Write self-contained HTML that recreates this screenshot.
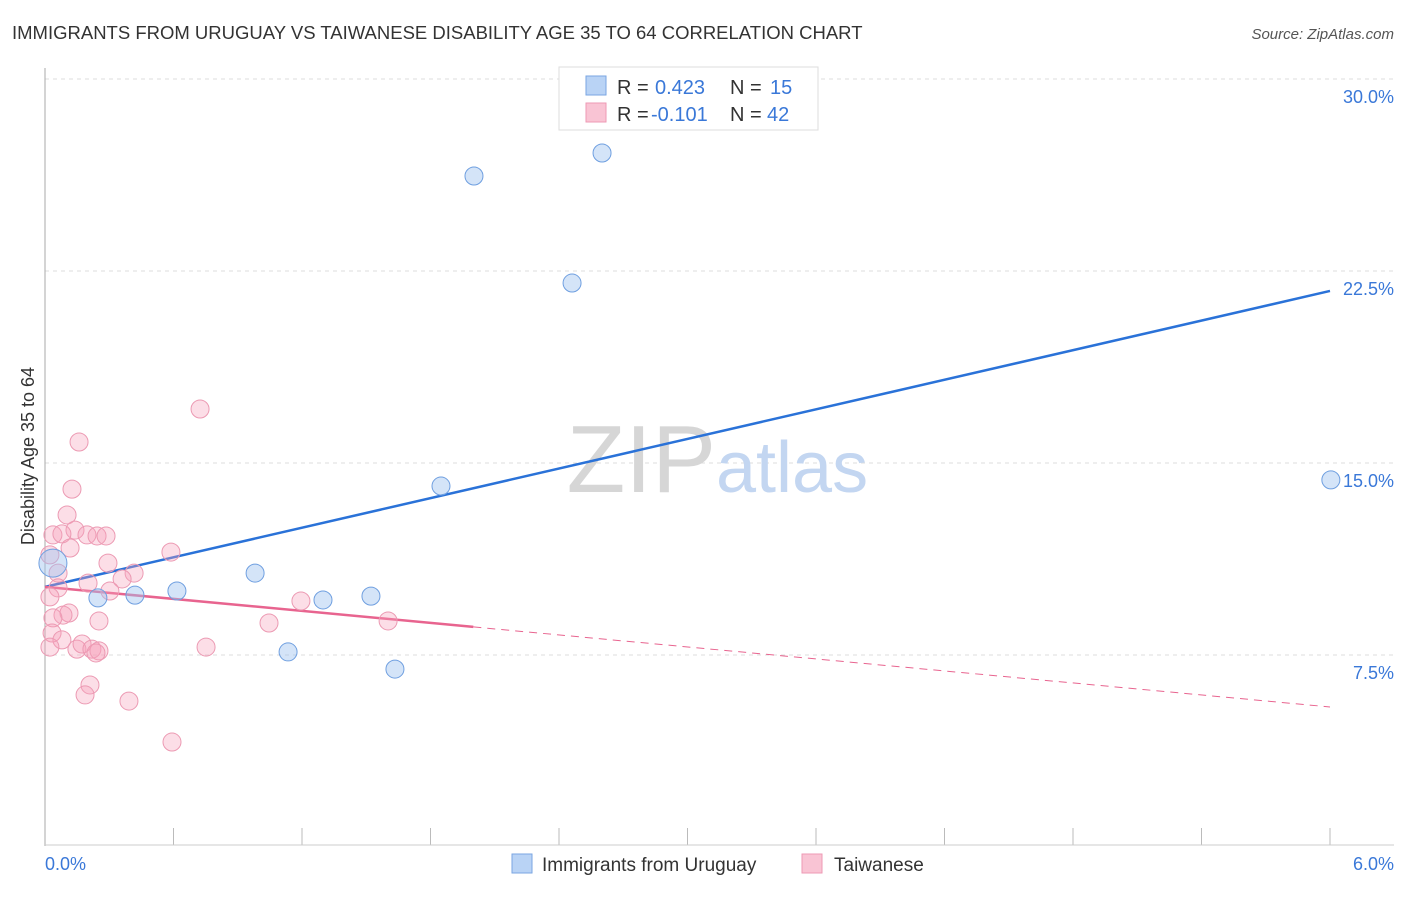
<!DOCTYPE html>
<html><head><meta charset="utf-8"><style>
body{margin:0;background:#fff;font-family:"Liberation Sans",sans-serif;}
svg text{font-family:"Liberation Sans",sans-serif;}
</style></head><body>
<svg width="1406" height="892">
<text x="12" y="39" font-size="18.5" fill="#333">IMMIGRANTS FROM URUGUAY VS TAIWANESE DISABILITY AGE 35 TO 64 CORRELATION CHART</text>
<text x="1394" y="39" font-size="15" fill="#555" font-style="italic" text-anchor="end">Source: ZipAtlas.com</text>
<g id="grid"></g>
<text x="716" y="492" font-size="96" fill="#d6d6d6" text-anchor="end" font-family="Liberation Serif">ZIP</text>
<text x="716" y="492" font-size="72" fill="#c3d6f1">atlas</text>
<line x1="45" y1="68" x2="45" y2="846" stroke="#aaa"/>
<line x1="45" y1="845" x2="1394" y2="845" stroke="#ccc"/>
<text transform="translate(34,456) rotate(-90)" font-size="18" fill="#333" text-anchor="middle">Disability Age 35 to 64</text>
<text x="45" y="870" font-size="18" fill="#3a78d8">0.0%</text>
<text x="1394" y="870" font-size="18" fill="#3a78d8" text-anchor="end">6.0%</text>
<g id="lines"></g>
<g id="points"></g>
<g>
<rect x="559" y="67" width="259" height="63" fill="#fff" stroke="#ddd"/>
<rect x="586" y="76" width="20" height="19" fill="#b9d3f5" stroke="#7aa6e2"/>
<rect x="586" y="103" width="20" height="19" fill="#f9c4d4" stroke="#ee9ab4"/>
<text x="617" y="94" font-size="20" fill="#333">R = <tspan x="655" fill="#3a78d8">0.423</tspan><tspan x="730">N = </tspan><tspan x="770" fill="#3a78d8">15</tspan></text>
<text x="617" y="121" font-size="20" fill="#333">R = <tspan x="651" fill="#3a78d8">-0.101</tspan><tspan x="730">N = </tspan><tspan x="767" fill="#3a78d8">42</tspan></text>
</g>
<g>
<rect x="512" y="854" width="20" height="19" fill="#b9d3f5" stroke="#7aa6e2"/>
<text x="542" y="871" font-size="19" fill="#333">Immigrants from Uruguay</text>
<rect x="802" y="854" width="20" height="19" fill="#f9c4d4" stroke="#ee9ab4"/>
<text x="834" y="871" font-size="19" fill="#333">Taiwanese</text>
</g>
</svg>
<script>
const yTicks=[7.5,15,22.5,30];
const yTickLabels=["7.5%","15.0%","22.5%","30.0%"];
const xTicks=[0,0.6,1.2,1.8,2.4,3.0,3.6,4.2,4.8,5.4,6.0];
const uruguayX=[0.037,0.247,0.420,0.616,0.981,1.135,1.298,1.522,1.634,1.849,2.003,2.461,2.601,6.004];
const uruguayY=[11.09,9.73,9.84,10.0,10.70,7.62,9.65,9.80,6.95,14.10,26.21,22.03,27.11,14.34];
const uruguayR=[14,9,9,9,9,9,9,9,9,9,9,9,9,9];
const taiwanX=[0.159,0.126,0.103,0.140,0.037,0.079,0.196,0.243,0.285,0.117,0.023,0.294,0.588,0.061,0.416,0.360,0.201,0.061,0.303,0.023,0.112,0.084,0.037,0.252,0.033,0.079,0.023,0.149,0.173,0.219,0.252,0.238,0.210,0.187,0.392,0.593,0.752,1.046,1.195,1.602,0.724];
const taiwanY=[15.82,13.98,12.97,12.38,12.19,12.23,12.19,12.15,12.15,11.68,11.41,11.09,11.52,10.70,10.70,10.47,10.31,10.12,10.0,9.77,9.14,9.06,8.95,8.83,8.36,8.09,7.81,7.73,7.93,7.73,7.66,7.58,6.33,5.94,5.70,4.10,7.81,8.75,9.61,8.83,17.11];
const blueTrend=[10.16,21.72];
const pinkTrend=[10.16,5.47];
const pinkSolidEnd=2.0;
const NS="http://www.w3.org/2000/svg";
const xs=v=>45+v/6*1285;
const ys=v=>847-v/7.5*192;
function mk(t,a,p){const e=document.createElementNS(NS,t);for(const k in a)e.setAttribute(k,a[k]);p.appendChild(e);return e;}
const grid=document.getElementById('grid');
yTicks.forEach((t,i)=>{
 const l=mk('line',{x1:45,x2:1394,y1:ys(t),y2:ys(t),stroke:'#ddd','stroke-dasharray':'4,4'},grid);
 
 
 const tx=mk('text',{x:1394,y:ys(t)+24,'font-size':18,fill:'#3a78d8','text-anchor':'end'},grid);
 tx.textContent=yTickLabels[i];
 
 
});
xTicks.forEach(t=>{
 const l=mk('line',{x1:xs(t),x2:xs(t),y1:828,y2:845,stroke:'#bbb'},grid);
 
 
});
const pts=document.getElementById('points');
taiwanX.forEach((x,i)=>{
 const c=mk('circle',{cx:xs(x),cy:ys(taiwanY[i]),r:9,fill:'rgba(245,160,185,0.35)',stroke:'#ec9ab3','stroke-width':1},pts);
 
 
});
uruguayX.forEach((x,i)=>{
 const c=mk('circle',{cx:xs(x),cy:ys(uruguayY[i]),r:uruguayR[i],fill:'rgba(160,195,240,0.45)',stroke:'#6f9fe0','stroke-width':1},pts);
 
 
});
const ln=document.getElementById('lines');
const b=mk('line',{x1:xs(0),y1:ys(blueTrend[0]),x2:xs(6),y2:ys(blueTrend[1]),stroke:'#2a72d8','stroke-width':2.5},ln);


const pm=pinkTrend[0]+(pinkTrend[1]-pinkTrend[0])*pinkSolidEnd/6;
const p1=mk('line',{x1:xs(0),y1:ys(pinkTrend[0]),x2:xs(pinkSolidEnd),y2:ys(pm),stroke:'#e8648f','stroke-width':2.5},ln);


const p2=mk('line',{x1:xs(pinkSolidEnd),y1:ys(pm),x2:xs(6),y2:ys(pinkTrend[1]),stroke:'#e8648f','stroke-width':1,'stroke-dasharray':'8,6'},ln);


</script>
</body></html>
